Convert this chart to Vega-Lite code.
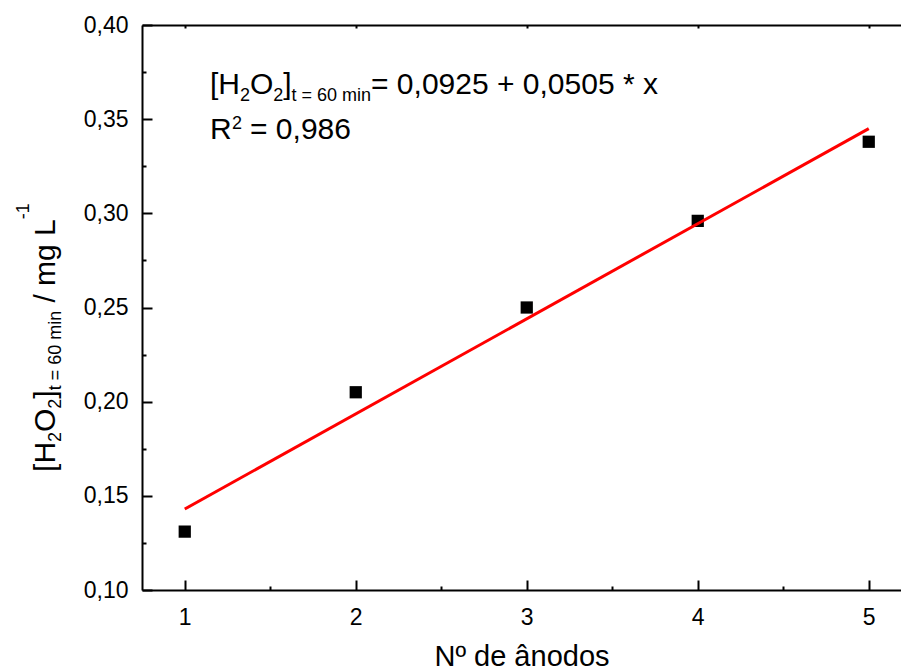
{
  "$schema": "https://vega.github.io/schema/vega-lite/v6.json",
  "width": 759,
  "height": 565,
  "autosize": "none",
  "padding": {"left": 142, "top": 25, "right": 0, "bottom": 82},
  "background": "white",
  "config": {
    "view": {"stroke": null},
    "font": "Liberation Sans",
    "axis": {
      "grid": false,
      "domainColor": "black",
      "domainWidth": 2,
      "tickColor": "black",
      "tickWidth": 2,
      "labelColor": "black",
      "titleColor": "black",
      "labelFont": "Liberation Sans",
      "titleFont": "Liberation Sans",
      "titleFontWeight": "normal"
    }
  },
  "datasets": {
    "points": [
      {"anodos": 1, "h2o2": 0.131},
      {"anodos": 2, "h2o2": 0.205},
      {"anodos": 3, "h2o2": 0.250},
      {"anodos": 4, "h2o2": 0.296},
      {"anodos": 5, "h2o2": 0.338}
    ],
    "fit": [
      {"anodos": 1, "h2o2": 0.143},
      {"anodos": 5, "h2o2": 0.345}
    ],
    "equation": [
      {"anodos": 1.147, "h2o2": 0.3634, "kind": "main", "label": "[H"},
      {"anodos": 1.3225, "h2o2": 0.3595, "kind": "sub", "label": "2"},
      {"anodos": 1.381, "h2o2": 0.3634, "kind": "main", "label": "O"},
      {"anodos": 1.5172, "h2o2": 0.3595, "kind": "sub", "label": "2"},
      {"anodos": 1.5757, "h2o2": 0.3634, "kind": "main", "label": "]"},
      {"anodos": 1.6242, "h2o2": 0.3595, "kind": "sub", "label": "t = 60 min"},
      {"anodos": 2.0892, "h2o2": 0.3634, "kind": "main", "label": "= 0,0925 + 0,0505 * x"},
      {"anodos": 1.1477, "h2o2": 0.3395, "kind": "main", "label": "R"},
      {"anodos": 1.2763, "h2o2": 0.3448, "kind": "sup", "label": "2"},
      {"anodos": 1.3816, "h2o2": 0.3395, "kind": "main", "label": "= 0,986"}
    ],
    "ytitle": [
      {"anodos": 0.2412, "h2o2": 0.1627, "kind": "main", "label": "[H"},
      {"anodos": 0.2763, "h2o2": 0.1786, "kind": "sub", "label": "2"},
      {"anodos": 0.2412, "h2o2": 0.1839, "kind": "main", "label": "O"},
      {"anodos": 0.2763, "h2o2": 0.1963, "kind": "sub", "label": "2"},
      {"anodos": 0.2412, "h2o2": 0.2016, "kind": "main", "label": "]"},
      {"anodos": 0.2763, "h2o2": 0.2060, "kind": "sub", "label": "t = 60 min"},
      {"anodos": 0.2412, "h2o2": 0.2526, "kind": "main", "label": "/ mg L"},
      {"anodos": 0.0892, "h2o2": 0.2969, "kind": "sup", "label": "-1"}
    ]
  },
  "resolve": {"axis": {"x": "independent", "y": "independent"}},
  "layer": [
    {
      "data": {"name": "points"},
      "mark": {"type": "point", "shape": "square", "filled": true, "color": "black", "size": 150, "opacity": 1},
      "encoding": {
        "x": {
          "field": "anodos", "type": "quantitative",
          "scale": {"domain": [0.75, 5.1886], "nice": false, "zero": false},
          "axis": {
            "orient": "bottom", "values": [1, 2, 3, 4, 5], "tickSize": -10,
            "labelPadding": 26, "labelFontSize": 23, "format": "d",
            "title": "Nº de ânodos", "titleFontSize": 29, "titlePadding": 13
          }
        },
        "y": {
          "field": "h2o2", "type": "quantitative",
          "scale": {"domain": [0.10, 0.40], "nice": false, "zero": false},
          "axis": {
            "orient": "left", "values": [0.10, 0.15, 0.20, 0.25, 0.30, 0.35, 0.40], "tickSize": -10,
            "labelPadding": 24, "labelFontSize": 23, "labelExpr": "replace(format(datum.value, '.2f'), '.', ',')",
            "title": null
          }
        }
      }
    },
    {
      "data": {"name": "fit"},
      "mark": {"type": "line", "color": "#ff0000", "strokeWidth": 3},
      "encoding": {
        "x": {
          "field": "anodos", "type": "quantitative",
          "axis": {"orient": "top", "values": [1, 2, 3, 4, 5], "tickSize": -3, "labels": false, "title": null}
        },
        "y": {
          "field": "h2o2", "type": "quantitative",
          "axis": {"orient": "left", "values": [0.125, 0.175, 0.225, 0.275, 0.325, 0.375], "tickSize": -4, "labels": false, "domain": false, "title": null}
        }
      }
    },
    {
      "data": {"name": "equation"},
      "mark": {"type": "text", "align": "left", "baseline": "alphabetic", "font": "Liberation Sans", "color": "black"},
      "encoding": {
        "x": {
          "field": "anodos", "type": "quantitative",
          "axis": {"orient": "bottom", "values": [1.5, 2.5, 3.5, 4.5], "tickSize": -4, "labels": false, "domain": false, "title": null}
        },
        "y": {"field": "h2o2", "type": "quantitative", "axis": null},
        "size": {"field": "kind", "type": "nominal", "scale": {"type": "ordinal", "domain": ["main", "sub", "sup"], "range": [30, 18, 18]}, "legend": null},
        "text": {"field": "label"}
      }
    },
    {
      "data": {"name": "ytitle"},
      "mark": {"type": "text", "align": "left", "baseline": "alphabetic", "angle": 270, "font": "Liberation Sans", "color": "black"},
      "encoding": {
        "x": {"field": "anodos", "type": "quantitative", "axis": null},
        "y": {"field": "h2o2", "type": "quantitative", "axis": null},
        "size": {"field": "kind", "type": "nominal", "scale": {"type": "ordinal", "domain": ["main", "sub", "sup"], "range": [30, 18, 18]}, "legend": null},
        "text": {"field": "label"}
      }
    }
  ]
}
